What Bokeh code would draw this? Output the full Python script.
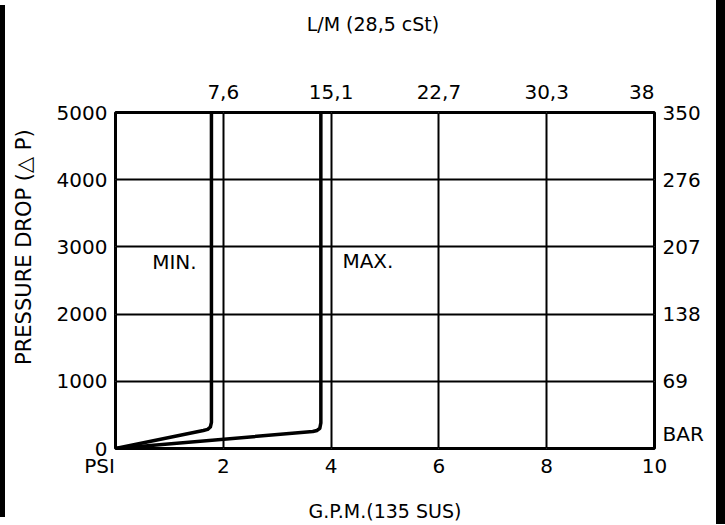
from bokeh.plotting import figure
from bokeh.models import Range1d, LinearAxis, FixedTicker, Label, Grid, Div
from bokeh.layouts import row
from bokeh.embed import file_html
from bokeh.resources import INLINE

NB = "\u00a0"

# ---------------- data ----------------
gpm_ticks = [0, 2, 4, 6, 8, 10]
gpm_labels = ["PSI" + NB * 5, "2", "4", "6", "8", "10"]
lpm_ticks = [2, 4, 6, 8, 10]
lpm_labels = ["7,6", "15,1", "22,7", "30,3", "38" + NB * 4]

psi_ticks = [0, 1000, 2000, 3000, 4000, 5000]
psi_labels = ["0", "1000", "2000", "3000", "4000", "5000"]

bar_ticks = [0, 1000, 2000, 3000, 4000, 5000]
bar_labels = ["BAR\n", "69", "138", "207", "276", "350"]

grid_x = [2, 4, 6, 8]
grid_y = [1000, 2000, 3000, 4000]

# MIN. curve (GPM vs PSI)
min_gpm = [0, 1.63, 1.71, 1.76, 1.78, 1.78]
min_psi = [0, 268, 285, 320, 390, 5000]

# MAX. curve (GPM vs PSI)
max_gpm = [0, 3.66, 3.74, 3.79, 3.81, 3.81]
max_psi = [0, 252, 268, 300, 380, 5000]

FONT = "DejaVu Sans"
FS = "20px"
FS_T = "19px"

p = figure(width=711, height=524,
           x_range=Range1d(0, 10), y_range=Range1d(0, 5000),
           output_backend="svg", toolbar_location=None,
           x_axis_location=None, y_axis_location=None,
           min_border_left=110, min_border_right=62,
           min_border_top=112, min_border_bottom=76)
p.background_fill_color = "white"
p.border_fill_color = "white"
p.outline_line_color = "black"
p.outline_line_width = 3

# grid lines
p.add_layout(Grid(dimension=0, ticker=FixedTicker(ticks=grid_x),
                  grid_line_color="black", grid_line_width=2))
p.add_layout(Grid(dimension=1, ticker=FixedTicker(ticks=grid_y),
                  grid_line_color="black", grid_line_width=2))


def style(ax, standoff, title_size=FS_T):
    ax.axis_line_color = None
    ax.major_tick_line_color = None
    ax.minor_tick_line_color = None
    ax.major_tick_in = 0
    ax.major_tick_out = 0
    ax.minor_tick_in = 0
    ax.minor_tick_out = 0
    ax.major_label_standoff = standoff
    ax.major_label_text_font = FONT
    ax.major_label_text_font_size = FS
    ax.major_label_text_color = "black"
    ax.axis_label_text_font = FONT
    ax.axis_label_text_font_size = title_size
    ax.axis_label_text_font_style = "normal"
    ax.axis_label_text_color = "black"


left = LinearAxis(ticker=FixedTicker(ticks=psi_ticks),
                  major_label_overrides=dict(zip(psi_ticks, psi_labels)),
                  axis_label=NB * 10 + "PRESSURE DROP (△ P)")
style(left, 8, "21px")
left.axis_label_standoff = 18
p.add_layout(left, "left")

right = LinearAxis(ticker=FixedTicker(ticks=bar_ticks),
                   major_label_overrides=dict(zip(bar_ticks, bar_labels)))
style(right, 8)
p.add_layout(right, "right")

bottom = LinearAxis(ticker=FixedTicker(ticks=gpm_ticks),
                    major_label_overrides=dict(zip(gpm_ticks, gpm_labels)),
                    axis_label="G.P.M.(135 SUS)")
style(bottom, 5)
bottom.axis_label_standoff = 19
p.add_layout(bottom, "below")

top = LinearAxis(ticker=FixedTicker(ticks=lpm_ticks),
                 major_label_overrides=dict(zip(lpm_ticks, lpm_labels)),
                 axis_label="L/M (28,5 cSt)" + NB * 4)
style(top, 9)
top.axis_label_standoff = 42
p.add_layout(top, "above")

# curves
p.line(min_gpm, min_psi, line_color="black", line_width=3.5, line_join="round")
p.line(max_gpm, max_psi, line_color="black", line_width=3.5, line_join="round")

# in-plot labels
for x, y, t in [(0.68, 2770, "MIN."), (4.21, 2790, "MAX.")]:
    p.add_layout(Label(x=x, y=y, text=t, text_align="left", text_baseline="middle",
                       text_font=FONT, text_font_size=FS, text_color="black"))

# side bars of the scanned sheet
bar_l = Div(width=5, height=524, margin=(0, 0, 0, 0),
            styles={"background": "linear-gradient(to bottom, white 0px, white 5px, "
                                  "black 5px, black 517px, white 517px, white 524px)"})
bar_r = Div(width=9, height=524, margin=(0, 0, 0, 0),
            styles={"background-color": "black"})

layout = row(bar_l, p, bar_r, spacing=0)

open("out.html", "w").write(file_html(layout, INLINE))
